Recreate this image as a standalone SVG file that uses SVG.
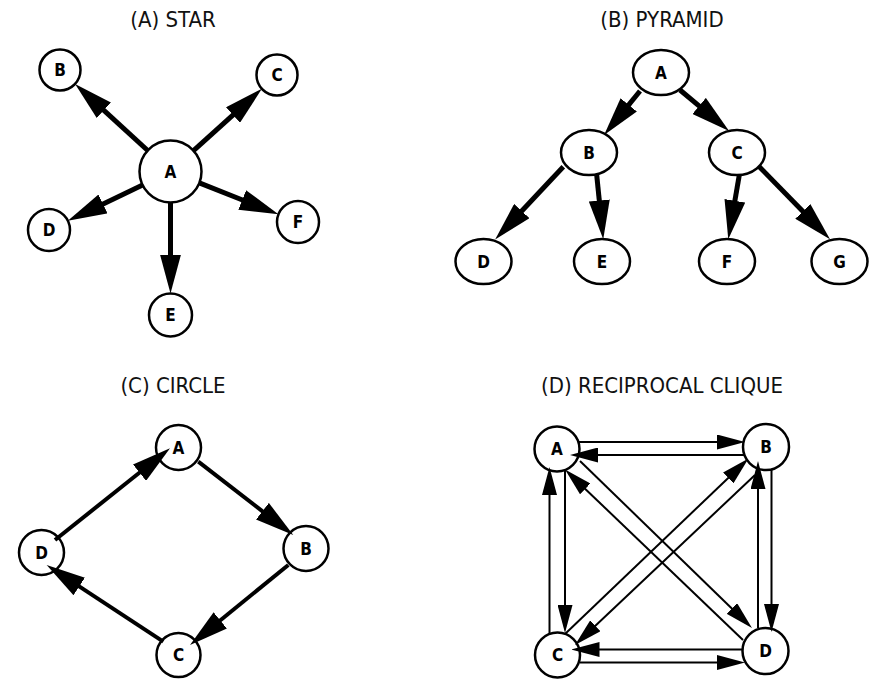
<svg xmlns="http://www.w3.org/2000/svg" width="874" height="679" viewBox="0 0 874 679">
<style>
.title{font-family:"Liberation Sans Narrow","DejaVu Sans Condensed","Liberation Sans",sans-serif;font-size:22px;fill:#111;text-anchor:middle}
.lbl{font-family:"Liberation Sans Narrow","DejaVu Sans Condensed","Liberation Sans",sans-serif;font-size:17px;font-weight:bold;fill:#000;text-anchor:middle}
.node{fill:#fff;stroke:#000;stroke-width:2.5}
.thick{stroke:#000;stroke-width:5;fill:none;marker-end:url(#big)}
.mid{stroke:#000;stroke-width:4;fill:none;marker-end:url(#big)}
.thin{stroke:#000;stroke-width:2;fill:none;marker-end:url(#small)}
</style>
<defs>
<marker id="big" markerUnits="userSpaceOnUse" viewBox="0 0 39 21" refX="1" refY="10.5" markerWidth="39" markerHeight="21" orient="auto">
<path d="M0,0 L39,10.5 L0,21 z" fill="#000"/>
</marker>
<marker id="small" markerUnits="userSpaceOnUse" viewBox="0 0 28 15" refX="1" refY="7.5" markerWidth="28" markerHeight="15" orient="auto">
<path d="M0,0 L28,7.5 L0,15 z" fill="#000"/>
</marker>
</defs>

<rect width="874" height="679" fill="#fff"/>

<text class="title" x="173" y="27">(A) STAR</text>
<text class="title" x="662" y="27">(B) PYRAMID</text>
<text class="title" x="173" y="393">(C) CIRCLE</text>
<text class="title" x="662" y="393">(D) RECIPROCAL CLIQUE</text>

<!-- (A) STAR nodes -->
<g id="star-A"><circle class="node" cx="170.5" cy="171.5" r="31"/><text class="lbl" x="170.5" y="177.5">A</text></g>
<g id="star-B"><circle class="node" cx="60" cy="70" r="20.5"/><text class="lbl" x="60" y="76">B</text></g>
<g id="star-C"><circle class="node" cx="277" cy="75" r="20.5"/><text class="lbl" x="277" y="81">C</text></g>
<g id="star-D"><circle class="node" cx="49" cy="230" r="21"/><text class="lbl" x="49" y="236">D</text></g>
<g id="star-E"><circle class="node" cx="170.5" cy="315" r="21.5"/><text class="lbl" x="170.5" y="321">E</text></g>
<g id="star-F"><circle class="node" cx="298" cy="222" r="21"/><text class="lbl" x="298" y="228">F</text></g>

<!-- (B) PYRAMID nodes -->
<g id="pyr-A"><ellipse class="node" cx="661" cy="72.5" rx="28" ry="22.5"/><text class="lbl" x="661" y="78.5">A</text></g>
<g id="pyr-B"><ellipse class="node" cx="589" cy="152.5" rx="28" ry="22.5"/><text class="lbl" x="589" y="158.5">B</text></g>
<g id="pyr-C"><ellipse class="node" cx="737" cy="152.5" rx="28" ry="22.5"/><text class="lbl" x="737" y="158.5">C</text></g>
<g id="pyr-D"><ellipse class="node" cx="483.5" cy="261.5" rx="28" ry="22.5"/><text class="lbl" x="483.5" y="267.5">D</text></g>
<g id="pyr-E"><ellipse class="node" cx="602" cy="261.5" rx="28" ry="22.5"/><text class="lbl" x="602" y="267.5">E</text></g>
<g id="pyr-F"><ellipse class="node" cx="727" cy="261.5" rx="28" ry="22.5"/><text class="lbl" x="727" y="267.5">F</text></g>
<g id="pyr-G"><ellipse class="node" cx="839.5" cy="261.5" rx="28" ry="22.5"/><text class="lbl" x="839.5" y="267.5">G</text></g>

<!-- (C) CIRCLE nodes -->
<g id="cir-A"><circle class="node" cx="178.5" cy="447.5" r="22.5"/><text class="lbl" x="178.5" y="453.5">A</text></g>
<g id="cir-B"><circle class="node" cx="306" cy="548.5" r="22.5"/><text class="lbl" x="306" y="554.5">B</text></g>
<g id="cir-C"><circle class="node" cx="178.5" cy="655" r="22"/><text class="lbl" x="178.5" y="661">C</text></g>
<g id="cir-D"><circle class="node" cx="41.5" cy="552.5" r="22.5"/><text class="lbl" x="41.5" y="558.5">D</text></g>

<!-- (D) RECIPROCAL CLIQUE nodes -->
<g id="clq-A"><circle class="node" cx="557" cy="449" r="22.5"/><text class="lbl" x="557" y="455">A</text></g>
<g id="clq-B"><circle class="node" cx="766" cy="447" r="23"/><text class="lbl" x="766" y="453">B</text></g>
<g id="clq-C"><circle class="node" cx="557.5" cy="655" r="22.5"/><text class="lbl" x="557.5" y="661">C</text></g>
<g id="clq-D"><circle class="node" cx="765.5" cy="651" r="23"/><text class="lbl" x="765.5" y="657">D</text></g>

<g id="connectors">
<!-- star -->
<line class="thick" x1="147.7" y1="150.5" x2="103.1" y2="109.6"/>
<line class="thick" x1="193.5" y1="150.7" x2="233.7" y2="114.3"/>
<line class="thick" x1="142.6" y1="185" x2="102.1" y2="204.4"/>
<line class="thick" x1="170.5" y1="202.5" x2="170.5" y2="255.5"/>
<line class="thick" x1="199.3" y1="182.9" x2="243.1" y2="200.3"/>
<!-- pyramid -->
<line class="thick" x1="640" y1="91" x2="628.1" y2="105.6"/>
<line class="thick" x1="680" y1="90" x2="699.9" y2="106.6"/>
<line class="thick" x1="563.3" y1="166.7" x2="521.1" y2="211.8"/>
<line class="thick" x1="596.7" y1="175" x2="599.4" y2="201.5"/>
<line class="thick" x1="739.3" y1="175" x2="734.7" y2="201.8"/>
<line class="thick" x1="759.3" y1="166.7" x2="803.5" y2="212.1"/>
<!-- circle -->
<line class="mid" x1="55" y1="540" x2="140.3" y2="472"/>
<line class="mid" x1="198.3" y1="461.7" x2="263.2" y2="511.8"/>
<line class="mid" x1="288.3" y1="565" x2="219.5" y2="621"/>
<line class="mid" x1="163.3" y1="641.7" x2="78.4" y2="585.9"/>
<!-- clique -->
<line class="thin" x1="579" y1="442" x2="718" y2="442"/>
<line class="thin" x1="744" y1="455" x2="597" y2="455"/>
<line class="thin" x1="565" y1="471" x2="565" y2="606"/>
<line class="thin" x1="549.5" y1="634" x2="549.5" y2="494"/>
<line class="thin" x1="771.5" y1="469" x2="771.5" y2="605"/>
<line class="thin" x1="758" y1="628" x2="758" y2="488"/>
<line class="thin" x1="742" y1="649.5" x2="598.5" y2="649.5"/>
<line class="thin" x1="580" y1="662.5" x2="718" y2="662.5"/>
<line class="thin" x1="580" y1="461" x2="732.6" y2="609.2"/>
<line class="thin" x1="743" y1="640" x2="584.5" y2="488.2"/>
<line class="thin" x1="565" y1="634" x2="729" y2="477.2"/>
<line class="thin" x1="755" y1="475" x2="594.6" y2="626.5"/>
</g>
</svg>
